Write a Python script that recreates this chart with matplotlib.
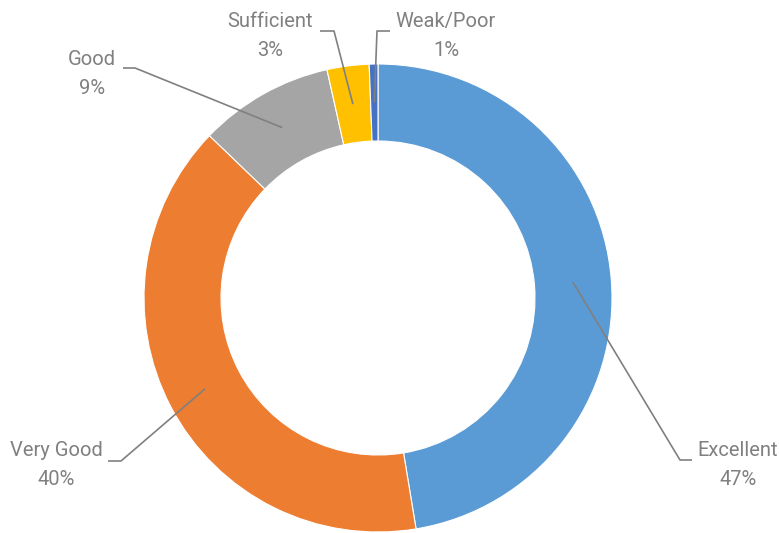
import matplotlib
matplotlib.use('Agg')
import matplotlib.pyplot as plt
import numpy as np

# Data (shares in %, labels shown rounded)
labels = ['Excellent', 'Very Good', 'Good', 'Sufficient', 'Weak/Poor']
values = [47.4, 39.8, 9.3, 2.9, 0.6]
colors = ['#5B9BD5', '#ED7D31', '#A5A5A5', '#FFC000', '#4472C4']

# label layout (pixel coords, y from top): text centre, elbow start, elbow end
text_pos = [(738, 465), (56, 465), (92, 74), (270, 36), (446, 36)]
elbows = [((692, 460), (680, 460)), ((108, 461), (121, 461)),
          ((123, 68), (135, 68)), ((320, 31), (334, 31)), ((390, 31), (377, 31))]

W, H = 779, 533
cx, cy = 378, H - 298
r_out, r_in = 234, 157

plt.rcParams['font.family'] = ['Roboto', 'DejaVu Sans']
fig = plt.figure(figsize=(W / 100, H / 100), dpi=100)
ax = fig.add_axes([0, 0, 1, 1])

wedges, _ = ax.pie(values, colors=colors, startangle=90, counterclock=False,
                   center=(cx, cy), radius=r_out, frame=True,
                   wedgeprops=dict(width=r_out - r_in, edgecolor='white', linewidth=0.8))
ax.set_xlim(0, W)
ax.set_ylim(0, H)
ax.set_aspect('equal')
ax.axis('off')

grey = '#808080'
r_mid = (r_out + r_in) / 2
total = sum(values)
for w, lab, v, tp, (e0, e1) in zip(wedges, labels, values, text_pos, elbows):
    ang = np.deg2rad((w.theta1 + w.theta2) / 2)
    ax_x = cx + r_mid * np.cos(ang)
    ax_y = cy + r_mid * np.sin(ang)
    ax.plot([e0[0], e1[0], ax_x], [H - e0[1], H - e1[1], ax_y],
            color=grey, lw=1.2, solid_capstyle='butt')
    ax.text(tp[0], H - tp[1], f'{lab}\n{round(100 * v / total)}%', ha='center', va='center',
            fontsize=14.5, color=grey, linespacing=1.7)

fig.savefig('out.png', dpi=100)
